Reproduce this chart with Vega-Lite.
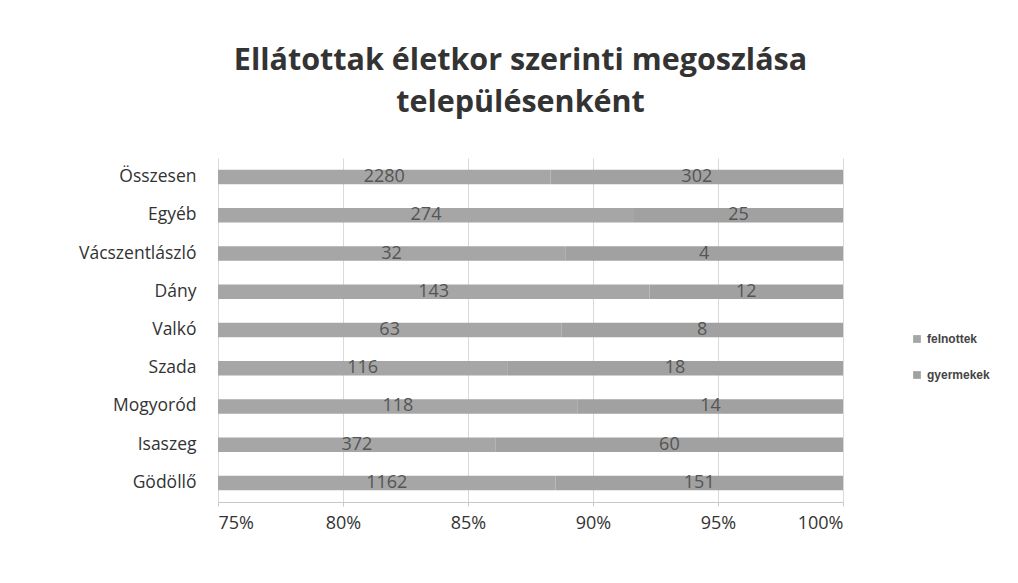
{
  "$schema": "https://vega.github.io/schema/vega-lite/v6.json",
  "autosize": {"type": "none"},
  "width": 625,
  "height": 344,
  "padding": {"left": 218, "top": 158, "right": 175, "bottom": 81},
  "background": "white",
  "view": {"stroke": null},
  "title": {
    "text": ["Ellátottak életkor szerinti megoszlása", "településenként"],
    "font": "Open Sans",
    "fontSize": 30.5,
    "fontWeight": "bold",
    "color": "#333333",
    "lineHeight": 42,
    "anchor": "middle",
    "dx": -10,
    "offset": 40
  },
  "data": {
    "values": [
      {"telepules": "Összesen", "csoport": "felnottek", "ertek": 2280},
      {"telepules": "Összesen", "csoport": "gyermekek", "ertek": 302},
      {"telepules": "Egyéb", "csoport": "felnottek", "ertek": 274},
      {"telepules": "Egyéb", "csoport": "gyermekek", "ertek": 25},
      {"telepules": "Vácszentlászló", "csoport": "felnottek", "ertek": 32},
      {"telepules": "Vácszentlászló", "csoport": "gyermekek", "ertek": 4},
      {"telepules": "Dány", "csoport": "felnottek", "ertek": 143},
      {"telepules": "Dány", "csoport": "gyermekek", "ertek": 12},
      {"telepules": "Valkó", "csoport": "felnottek", "ertek": 63},
      {"telepules": "Valkó", "csoport": "gyermekek", "ertek": 8},
      {"telepules": "Szada", "csoport": "felnottek", "ertek": 116},
      {"telepules": "Szada", "csoport": "gyermekek", "ertek": 18},
      {"telepules": "Mogyoród", "csoport": "felnottek", "ertek": 118},
      {"telepules": "Mogyoród", "csoport": "gyermekek", "ertek": 14},
      {"telepules": "Isaszeg", "csoport": "felnottek", "ertek": 372},
      {"telepules": "Isaszeg", "csoport": "gyermekek", "ertek": 60},
      {"telepules": "Gödöllő", "csoport": "felnottek", "ertek": 1162},
      {"telepules": "Gödöllő", "csoport": "gyermekek", "ertek": 151}
    ]
  },
  "transform": [
    {"stack": "ertek", "groupby": ["telepules"], "offset": "normalize", "sort": [{"field": "csoport", "order": "ascending"}], "as": ["x0", "x1"]},
    {"calculate": "(max(datum.x0, 0.75) + datum.x1) / 2", "as": "mid"}
  ],
  "encoding": {
    "y": {
      "field": "telepules",
      "type": "nominal",
      "sort": ["Összesen", "Egyéb", "Vácszentlászló", "Dány", "Valkó", "Szada", "Mogyoród", "Isaszeg", "Gödöllő"],
      "scale": {"paddingInner": 0.62, "paddingOuter": 0.31},
      "axis": {
        "title": null,
        "labelFont": "Open Sans",
        "labelFontSize": 17.5,
        "labelColor": "#333333",
        "labelPadding": 22,
        "ticks": false,
        "domain": false
      }
    }
  },
  "layer": [
    {
      "mark": {"type": "bar", "clip": true},
      "encoding": {
        "x": {
          "field": "x0",
          "type": "quantitative",
          "scale": {"domain": [0.75, 1], "nice": false},
          "axis": {
            "title": null,
            "format": ".0%",
            "values": [0.75, 0.8, 0.85, 0.9, 0.95, 1],
            "labelFont": "Open Sans",
            "labelFontSize": 18,
            "labelColor": "#333333",
            "labelPadding": 8,
            "grid": true,
            "gridColor": "#d9d9d9",
            "domainColor": "#c8c8c8",
            "tickColor": "#c8c8c8",
            "tickSize": 4
          }
        },
        "x2": {"field": "x1"},
        "color": {
          "field": "csoport",
          "type": "nominal",
          "scale": {"domain": ["felnottek", "gyermekek"], "range": ["#a6a6a6", "#a1a1a1"]},
          "legend": {
            "title": null,
            "orient": "none",
            "legendX": 693,
            "legendY": 175,
            "symbolType": "square",
            "symbolSize": 60,
            "labelFont": "Liberation Sans",
            "labelFontSize": 12,
            "labelFontWeight": "bold",
            "labelColor": "#444444",
            "rowPadding": 24
          }
        }
      }
    },
    {
      "mark": {"type": "text", "font": "Open Sans", "fontSize": 18, "color": "#555555", "baseline": "middle"},
      "encoding": {
        "x": {"field": "mid", "type": "quantitative"},
        "text": {"field": "ertek", "type": "quantitative"}
      }
    }
  ]
}
